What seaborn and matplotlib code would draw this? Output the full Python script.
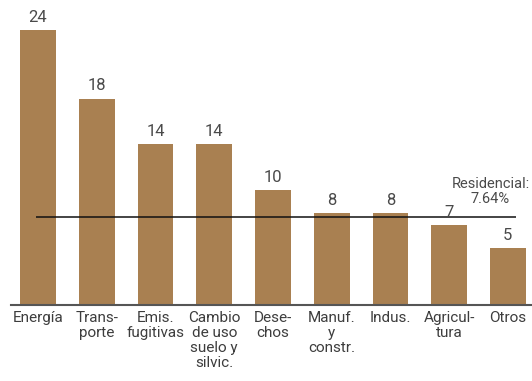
import pandas as pd
import matplotlib
matplotlib.use("Agg")
import matplotlib.pyplot as plt
import seaborn as sns

# data
sectors = ["Energía", "Trans-\nporte", "Emis.\nfugitivas", "Cambio\nde uso\nsuelo y\nsilvic.",
           "Dese-\nchos", "Manuf.\ny\nconstr.", "Indus.", "Agricul-\ntura", "Otros"]
values = [24, 18, 14, 14, 10, 8, 8, 7, 5]
residencial = 7.64
residencial_label = "Residencial:\n7.64%"

df = pd.DataFrame({"sector": sectors, "value": values})

sns.set_style("white")
plt.rcParams["font.family"] = ["Roboto", "DejaVu Sans"]

fig = plt.figure(figsize=(5.32, 3.81), dpi=100)
ax = fig.add_axes([11 / 532, 1 - 305 / 381, 521 / 532, 305 / 381])

sns.barplot(data=df, x="sector", y="value", color="#a98051", saturation=1,
            width=0.61, linewidth=0, ax=ax)

for i, v in enumerate(values):
    ax.text(i, v + 0.45, str(v), ha="center", va="bottom", fontsize=12,
            color="#4a4a4a")

ax.hlines(residencial, -0.03, 8.14, color="#111111", lw=1.1)
ax.text(8.37, residencial + 1.0, residencial_label, ha="right", va="bottom",
        fontsize=10.5, color="#4a4a4a", linespacing=1.05, multialignment="center")

ax.set_xlim(-0.46, 8.41)
ax.set_ylim(0, 26.6)
ax.set_xlabel("")
ax.set_ylabel("")
ax.set_yticks([])
ax.tick_params(axis="x", length=0, pad=4, labelsize=11, labelcolor="#3d3d3d")
for lab in ax.get_xticklabels():
    lab.set_linespacing(1.1)
sns.despine(ax=ax, left=True)
ax.spines["bottom"].set_color("#555555")
ax.spines["bottom"].set_linewidth(1.5)

fig.savefig("out.png", dpi=100)
